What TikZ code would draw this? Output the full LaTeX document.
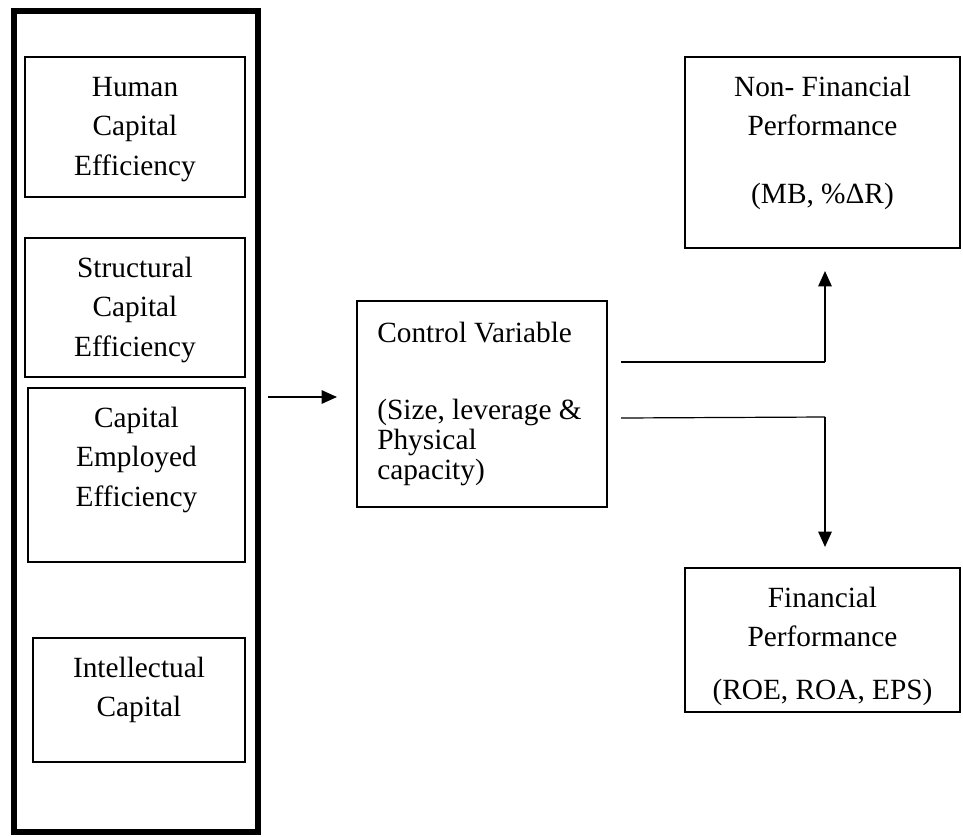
\documentclass[tikz,border=0pt]{standalone}
\usepackage{fontspec}
\setmainfont{Liberation Serif}
\usetikzlibrary{arrows.meta}
\tikzset{
  box/.style={draw, line width=1.5pt, rectangle, inner sep=0pt},
  outerbox/.style={draw, line width=4.5pt, rectangle, inner sep=0pt},
  lbl/.style={inner sep=0pt, align=center, font=\fontsize{22}{29.6}\selectfont},
  arr/.style={line width=1.4pt, -{Triangle[length=11.5pt,width=10pt]}},
  thin/.style={line width=0.9pt}
}
\newcommand{\fl}{\rule{0pt}{15.5pt}}
\begin{document}
\begin{tikzpicture}[x=0.75pt,y=-0.75pt]
\useasboundingbox (0,0) rectangle (963,836);
% outer box and left boxes
\node[outerbox, minimum width=183pt, minimum height=615.75pt] (outer) at (136,421.5) {};
\node[box, minimum width=165pt, minimum height=105pt] (hce) at (135,127) {};
\node[box, minimum width=165pt, minimum height=104.25pt] (sce) at (135,307.5) {};
\node[box, minimum width=162.75pt, minimum height=130.5pt] (cee) at (136.5,475) {};
\node[box, minimum width=159pt, minimum height=93pt] (ic) at (139,700) {};
\node[lbl, anchor=north] (hcet) at ([yshift=-14.5pt]hce.north) {\fl Human\\Capital\\Efficiency};
\node[lbl, anchor=north] (scet) at ([yshift=-14.5pt]sce.north) {\fl Structural\\Capital\\Efficiency};
\node[lbl, anchor=north] (ceet) at ([yshift=-14.5pt]cee.north) {\fl Capital\\Employed\\Efficiency};
\node[lbl, anchor=north] (ict) at ([yshift=-14.5pt]ic.north) {\fl Intellectual\\Capital};
% control box
\node[box, minimum width=187.5pt, minimum height=154.5pt] (cv) at (482,404) {};
\node[lbl, align=left, anchor=north west, font=\fontsize{22}{22.5}\selectfont] (cvt) at ([xshift=15.75pt,yshift=-16pt]cv.north west)
  {\fl Control Variable\\[35.25pt](Size, leverage \&\\Physical\\capacity)};
% performance boxes
\node[box, minimum width=206.25pt, minimum height=143.25pt] (nf) at (822.5,152.5) {};
\node[lbl, anchor=north] (nft) at ([yshift=-14.5pt]nf.north) {\fl Non- Financial\\Performance\\[21pt](MB, \%ΔR)};
\node[box, minimum width=206.25pt, minimum height=108pt] (fp) at (822.5,640) {};
\node[lbl, anchor=north] (fpt) at ([yshift=-14.5pt]fp.north) {\fl Financial\\Performance\\[10pt](ROE, ROA, EPS)};
% connectors
\coordinate (a1) at (268,397);
\coordinate (a2) at (337,397);
\draw[arr] (a1) -- (a2);
\coordinate (u1) at (621,362);
\coordinate (u2) at (825,362);
\coordinate (u3) at (825,271);
\draw[thin] (u1) -- (u2);
\draw[arr] (u2) -- (u3);
\coordinate (d1) at (621,418);
\coordinate (d2) at (825,417);
\coordinate (d3) at (825,547);
\draw[thin] (d1) -- (d2);
\draw[arr] (d2) -- (d3);
\end{tikzpicture}
\end{document}
